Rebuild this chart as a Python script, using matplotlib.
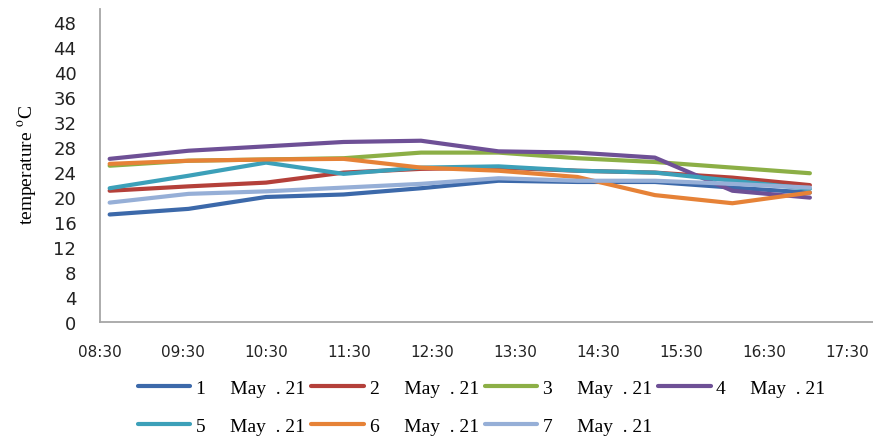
import matplotlib
matplotlib.use("Agg")
import matplotlib.pyplot as plt

# measurement times and daily temperature readings
times = ["08:37", "09:34", "10:30", "11:26", "12:22", "13:18", "14:15", "15:11", "16:07", "17:03"]
tick_labels = ["08:30", "09:30", "10:30", "11:30", "12:30", "13:30", "14:30", "15:30", "16:30", "17:30"]

may1 = [17.2, 18.1, 20.0, 20.4, 21.4, 22.6, 22.4, 22.4, 21.5, 20.7]
may2 = [21.0, 21.7, 22.3, 23.9, 24.5, 24.7, 24.2, 23.9, 23.1, 21.9]
may3 = [25.0, 25.8, 26.0, 26.2, 27.1, 27.1, 26.2, 25.6, 24.7, 23.8]
may4 = [26.1, 27.4, 28.1, 28.8, 29.0, 27.3, 27.1, 26.3, 21.0, 19.9]
may5 = [21.4, 23.4, 25.5, 23.7, 24.7, 24.9, 24.2, 23.9, 22.6, 21.3]
may6 = [25.3, 25.8, 26.0, 26.1, 24.7, 24.2, 23.2, 20.3, 19.0, 20.7]
may7 = [19.1, 20.5, 20.9, 21.5, 22.1, 23.0, 22.6, 22.6, 22.1, 21.5]

series = [may1, may2, may3, may4, may5, may6, may7]
labels = ["%d     May  . 21" % (i + 1) for i in range(7)]
colors = ["#3c69aa", "#b4403a", "#8caf46", "#6e5096", "#3ca0b9", "#e68237", "#96afd7"]

plt.rcParams["mathtext.fontset"] = "stix"


def to_hours(t):
    h, m = t.split(":")
    return int(h) + int(m) / 60.0


x = [to_hours(t) for t in times]
tick_pos = [to_hours(t) for t in tick_labels]

fig = plt.figure(figsize=(8.73, 4.39), dpi=100)
ax = fig.add_axes([0.1145, 0.2642, 0.8855, 0.712])

lines = []
for vals, lab, col in zip(series, labels, colors):
    ln, = ax.plot(x, vals, color=col, linewidth=3, label=lab, solid_capstyle="round")
    lines.append(ln)

ax.set_xlim(8.5, 17.81)
ax.set_ylim(0, 50)
ax.set_yticks(range(0, 49, 4))
ax.set_xticks(tick_pos)
ax.set_xticklabels(tick_labels)

ax.tick_params(axis="y", length=0, pad=17, labelsize=13, labelcolor="#222222")
ax.tick_params(axis="x", length=0, pad=16, labelsize=11, labelcolor="#222222")

for side in ["top", "right"]:
    ax.spines[side].set_visible(False)
for side in ["left", "bottom"]:
    ax.spines[side].set_color("#a6a6a6")
    ax.spines[side].set_linewidth(1.3)

fig.text(0.031, 0.625, r"temperature $^{\mathrm{o}}$C", rotation=90,
         family="Liberation Serif", fontsize=14, ha="center", va="center")

# legend fills column by column, so interleave to get rows 1-4 and 5-7
order = [0, 4, 1, 5, 2, 6, 3]
fig.legend([lines[i] for i in order], [labels[i] for i in order],
           loc="upper left", bbox_to_anchor=(0.158, 0.134), ncol=4, frameon=False,
           prop={"family": "Liberation Serif", "size": 14},
           handlelength=2.7, handletextpad=0.3, columnspacing=0.3,
           labelspacing=1.05, borderpad=0, borderaxespad=0)

fig.savefig("out.png", dpi=100)
